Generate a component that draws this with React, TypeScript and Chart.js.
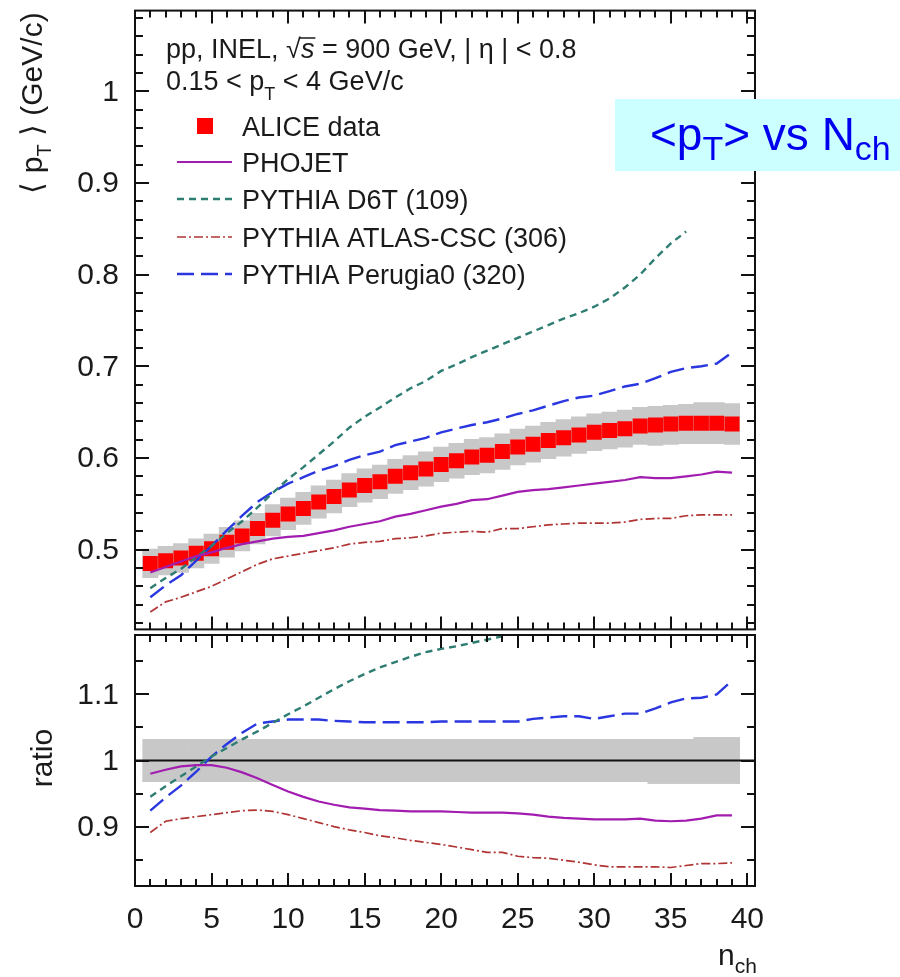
import { useEffect, useRef } from "react";
import { Chart, registerables } from "chart.js";

Chart.register(...registerables);

// ---------- data ----------
const nch = [
  1, 2, 3, 4, 5, 6, 7, 8, 9, 10, 11, 12, 13, 14, 15, 16, 17, 18, 19, 20,
  21, 22, 23, 24, 25, 26, 27, 28, 29, 30, 31, 32, 33, 34, 35, 36, 37, 38, 39,
];

// ALICE <pT> (GeV/c) per multiplicity bin
const aliceMean = [
  0.485, 0.488, 0.491, 0.496, 0.501, 0.508, 0.515, 0.523, 0.532, 0.539,
  0.545, 0.552, 0.558, 0.565, 0.57, 0.574, 0.58, 0.584, 0.588, 0.593,
  0.597, 0.601, 0.603, 0.607, 0.612, 0.615, 0.619, 0.622, 0.625, 0.628,
  0.63, 0.632, 0.635, 0.636, 0.637, 0.638, 0.638, 0.638, 0.637,
];

// relative systematic uncertainty (upper / lower)
const sysUp = [
  0.032, 0.032, 0.032, 0.032, 0.032, 0.032, 0.032, 0.032, 0.032, 0.032,
  0.032, 0.032, 0.032, 0.032, 0.032, 0.032, 0.032, 0.032, 0.032, 0.032,
  0.032, 0.032, 0.032, 0.032, 0.032, 0.032, 0.032, 0.032, 0.032, 0.032,
  0.032, 0.032, 0.032, 0.032, 0.032, 0.032, 0.035, 0.035, 0.035,
];
const sysDown = [
  0.032, 0.032, 0.032, 0.032, 0.032, 0.032, 0.032, 0.032, 0.032, 0.032,
  0.032, 0.032, 0.032, 0.032, 0.032, 0.032, 0.032, 0.032, 0.032, 0.032,
  0.032, 0.032, 0.032, 0.032, 0.032, 0.032, 0.032, 0.032, 0.032, 0.032,
  0.032, 0.032, 0.032, 0.035, 0.035, 0.035, 0.035, 0.035, 0.035,
];

// model predictions of <pT>
const phojet = [
  0.475, 0.481, 0.487, 0.493, 0.497, 0.502, 0.506, 0.509, 0.512, 0.514,
  0.515, 0.518, 0.521, 0.525, 0.528, 0.531, 0.536, 0.539, 0.543, 0.547,
  0.55, 0.554, 0.555, 0.559, 0.563, 0.565, 0.566, 0.568, 0.57, 0.572,
  0.574, 0.576, 0.579, 0.578, 0.578, 0.58, 0.582, 0.585, 0.584,
];
const d6t = [
  0.458, 0.469, 0.479, 0.492, 0.504, 0.518, 0.531, 0.546, 0.562, 0.577,
  0.59, 0.604, 0.618, 0.633, 0.645, 0.655, 0.666, 0.676, 0.684, 0.695,
  0.702, 0.71, 0.717, 0.724, 0.731, 0.738, 0.745, 0.752, 0.758, 0.765,
  0.774, 0.786, 0.8, 0.818, 0.834, 0.847,
];
const atlasCsc = [
  0.432, 0.443, 0.448, 0.454, 0.46, 0.468, 0.476, 0.484, 0.49, 0.493,
  0.496, 0.499, 0.502, 0.506, 0.508, 0.509, 0.512, 0.513, 0.515, 0.518,
  0.519, 0.52, 0.519, 0.523, 0.523, 0.525, 0.527, 0.528, 0.529, 0.529,
  0.529, 0.53, 0.533, 0.534, 0.534, 0.537, 0.538, 0.538, 0.538,
];
const perugia0 = [
  0.448, 0.461, 0.472, 0.488, 0.504, 0.521, 0.537, 0.552, 0.563, 0.572,
  0.579, 0.586, 0.591, 0.598, 0.603, 0.607, 0.614, 0.618, 0.622, 0.628,
  0.632, 0.636, 0.639, 0.643, 0.648, 0.652, 0.657, 0.662, 0.666, 0.668,
  0.673, 0.678, 0.681, 0.687, 0.694, 0.698, 0.7, 0.703, 0.715,
];

// model / data ratios
const phojetRatio = [
  0.98, 0.986, 0.991, 0.993, 0.993, 0.989, 0.982, 0.973, 0.963, 0.953,
  0.945, 0.938, 0.933, 0.929, 0.927, 0.925, 0.924, 0.923, 0.923, 0.923,
  0.922, 0.921, 0.921, 0.921, 0.92, 0.918, 0.915, 0.913, 0.912, 0.911,
  0.911, 0.911, 0.912, 0.909, 0.908, 0.909, 0.912, 0.917, 0.917,
];
const d6tRatio = [
  0.945, 0.961, 0.976, 0.991, 1.006, 1.019, 1.032, 1.044, 1.057, 1.07,
  1.082, 1.095, 1.108, 1.12, 1.131, 1.141, 1.149, 1.157, 1.164, 1.169,
  1.173, 1.178, 1.183, 1.188, 1.194, 1.2, 1.204, 1.209, 1.213, 1.218,
  1.229, 1.244, 1.26, 1.286, 1.309, 1.328,
];
const atlasCscRatio = [
  0.891, 0.908, 0.912, 0.915, 0.918, 0.921, 0.924, 0.925, 0.923, 0.918,
  0.912, 0.906, 0.9, 0.895, 0.891, 0.886, 0.883, 0.879, 0.876, 0.873,
  0.869, 0.865, 0.861, 0.861, 0.855, 0.853, 0.852, 0.849, 0.846, 0.842,
  0.839, 0.839, 0.839, 0.839, 0.838, 0.841, 0.844, 0.844, 0.845,
];
const perugia0Ratio = [
  0.924, 0.944, 0.962, 0.983, 1.006, 1.025, 1.042, 1.056, 1.059, 1.062,
  1.062, 1.062, 1.06, 1.059, 1.058, 1.058, 1.058, 1.058, 1.058, 1.059,
  1.059, 1.059, 1.059, 1.059, 1.059, 1.063, 1.065, 1.067, 1.067, 1.063,
  1.067, 1.071, 1.071, 1.079, 1.088, 1.094, 1.095, 1.1, 1.121,
];

const xTickLabels = [0, 5, 10, 15, 20, 25, 30, 35, 40];
const mainTickLabels = [0.5, 0.6, 0.7, 0.8, 0.9, 1];
const ratioTickLabels = [0.9, 1, 1.1];

const modelNames = [
  "PHOJET",
  "PYTHIA D6T (109)",
  "PYTHIA ATLAS-CSC (306)",
  "PYTHIA Perugia0 (320)",
];

// ---------- axis ranges & styles ----------
const X_MIN = 0;
const X_MAX = 40.5;
const MAIN_MIN = 0.413;
const MAIN_MAX = 1.088;
const RATIO_MIN = 0.81;
const RATIO_MAX = 1.19;

const FONT = '"Liberation Sans", Arial, Helvetica, sans-serif';
const INK = "#1a1a1a";
const BAND = "#c8c8c8";
const DATA_RED = "#ff0000";

type LineStyle = { color: string; dash: number[]; width: number };
const modelStyles: LineStyle[] = [
  { color: "#a21cb0", dash: [], width: 2.2 },
  { color: "#2e7d72", dash: [7, 5], width: 2.4 },
  { color: "#b03434", dash: [9, 3, 2, 3], width: 1.7 },
  { color: "#2a36e0", dash: [17, 7], width: 2.4 },
];

const pts = (ys: number[]) => ys.map((y, i) => ({ x: nch[i], y }));

const lineSet = (label: string, ys: number[], s: LineStyle) => ({
  type: "line" as const,
  label,
  data: pts(ys),
  borderColor: s.color,
  borderWidth: s.width,
  borderDash: s.dash,
  borderCapStyle: "butt" as const,
  pointRadius: 0,
  fill: false,
  tension: 0,
  order: 0,
});

const bandSet = (lo: number[], hi: number[]) => ({
  type: "bar" as const,
  label: "syst",
  data: nch.map((n, i) => ({ x: n, y: [lo[i], hi[i]] })),
  backgroundColor: BAND,
  borderWidth: 0,
  barPercentage: 1,
  categoryPercentage: 1,
  order: 3,
});

// ---------- drawing helpers ----------
type Run = { t: string; size: number; dy?: number; italic?: boolean };

function drawRuns(ctx: CanvasRenderingContext2D, runs: Run[], x: number, y: number) {
  let cx = x;
  for (const r of runs) {
    ctx.font = `${r.italic ? "italic " : ""}${r.size}px ${FONT}`;
    ctx.fillText(r.t, cx, y + (r.dy || 0));
    cx += ctx.measureText(r.t).width;
  }
  return cx;
}

function runsWidth(ctx: CanvasRenderingContext2D, runs: Run[]) {
  let w = 0;
  for (const r of runs) {
    ctx.font = `${r.italic ? "italic " : ""}${r.size}px ${FONT}`;
    w += ctx.measureText(r.t).width;
  }
  return w;
}

function drawVertical(ctx: CanvasRenderingContext2D, runs: Run[], baseX: number, centerY: number) {
  ctx.save();
  ctx.translate(baseX, 0);
  ctx.rotate(-Math.PI / 2);
  const w = runsWidth(ctx, runs);
  drawRuns(ctx, runs, -(centerY + w / 2), 0);
  ctx.restore();
}

// frame with inward ticks on all four sides
const makeFrame = (yStep: number, kFrom: number, kTo: number, majorEvery: number) => ({
  id: "frame",
  afterDatasetsDraw(chart: any) {
    const { ctx, chartArea: a } = chart;
    const xs = chart.scales.x;
    const ys = chart.scales.y;
    ctx.save();
    ctx.strokeStyle = "#111";
    ctx.lineWidth = 2;
    ctx.setLineDash([]);
    ctx.beginPath();
    for (let v = 0; v <= 40; v++) {
      const px = Math.round(xs.getPixelForValue(v));
      const len = v % 5 === 0 ? 13 : 7;
      ctx.moveTo(px, a.top);
      ctx.lineTo(px, a.top + len);
      ctx.moveTo(px, a.bottom);
      ctx.lineTo(px, a.bottom - len);
    }
    for (let k = kFrom; k <= kTo; k++) {
      const py = Math.round(ys.getPixelForValue(k * yStep));
      const len = k % majorEvery === 0 ? 14 : 8;
      ctx.moveTo(a.left, py);
      ctx.lineTo(a.left + len, py);
      ctx.moveTo(a.right, py);
      ctx.lineTo(a.right - len, py);
    }
    ctx.stroke();
    ctx.strokeRect(a.left, a.top, a.right - a.left, a.bottom - a.top);
    ctx.restore();
  },
});

const mainDecor = {
  id: "mainDecor",
  afterDraw(chart: any) {
    const ctx: CanvasRenderingContext2D = chart.ctx;
    ctx.save();
    ctx.fillStyle = INK;
    ctx.textBaseline = "alphabetic";

    // header
    let x = drawRuns(ctx, [{ t: "pp, INEL, ", size: 27 }], 166, 58);
    ctx.font = `27px ${FONT}`;
    ctx.fillText("\u221A", x, 58);
    const s0 = x + ctx.measureText("\u221A").width;
    ctx.font = `italic 27px ${FONT}`;
    ctx.fillText("s", s0, 58);
    const s1 = s0 + ctx.measureText("s").width;
    ctx.strokeStyle = INK;
    ctx.lineWidth = 1.5;
    ctx.beginPath();
    ctx.moveTo(s0 - 1, 38);
    ctx.lineTo(s1 + 1, 38);
    ctx.stroke();
    drawRuns(ctx, [{ t: " = 900 GeV, | \u03B7 | < 0.8", size: 27 }], s1, 58);
    drawRuns(
      ctx,
      [
        { t: "0.15 < p", size: 27 },
        { t: "T", size: 18, dy: 10 },
        { t: " < 4 GeV/c", size: 27 },
      ],
      166,
      90
    );

    // legend
    const rowY = [126, 162, 199, 237, 274];
    ctx.fillStyle = DATA_RED;
    ctx.fillRect(197, rowY[0] - 8, 16, 16);
    ctx.fillStyle = INK;
    drawRuns(ctx, [{ t: "ALICE data", size: 27 }], 242, rowY[0] + 10);
    modelNames.forEach((name, i) => {
      const s = modelStyles[i];
      const y = rowY[i + 1];
      ctx.strokeStyle = s.color;
      ctx.lineWidth = s.width;
      ctx.setLineDash(s.dash);
      ctx.beginPath();
      ctx.moveTo(177, y);
      ctx.lineTo(232, y);
      ctx.stroke();
      ctx.setLineDash([]);
      ctx.fillStyle = INK;
      drawRuns(ctx, [{ t: name, size: 27 }], 242, y + 10);
    });

    // y-axis title
    ctx.fillStyle = INK;
    drawVertical(
      ctx,
      [
        { t: "\u27E8 p", size: 30 },
        { t: "T", size: 20, dy: 9 },
        { t: " \u27E9 (GeV/c)", size: 30 },
      ],
      42,
      103
    );

    // tag box
    ctx.fillStyle = "#ccffff";
    ctx.fillRect(615, 99, 285, 72);
    ctx.fillStyle = "#0000ee";
    drawRuns(
      ctx,
      [
        { t: "<p", size: 46 },
        { t: "T", size: 34, dy: 10 },
        { t: "> vs N", size: 46 },
        { t: "ch", size: 34, dy: 10 },
      ],
      650,
      150
    );
    ctx.restore();
  },
};

const ratioDecor = {
  id: "ratioDecor",
  afterDraw(chart: any) {
    const ctx: CanvasRenderingContext2D = chart.ctx;
    ctx.save();
    ctx.fillStyle = INK;
    ctx.textBaseline = "alphabetic";
    drawVertical(ctx, [{ t: "ratio", size: 30 }], 52, 158);
    drawRuns(
      ctx,
      [
        { t: "n", size: 30 },
        { t: "ch", size: 21, dy: 8 },
      ],
      718,
      365
    );
    ctx.restore();
  },
};

const yAxis = (min: number, max: number, labels: number[]) => ({
  type: "linear" as const,
  position: "left" as const,
  min,
  max,
  grid: { display: false, drawTicks: false },
  border: { display: false },
  ticks: {
    font: { family: FONT, size: 30 },
    color: INK,
    padding: 16,
    labelOffset: 1,
    callback: (v: any) => String(v),
  },
  afterBuildTicks: (s: any) => {
    s.ticks = labels.map((value) => ({ value }));
  },
  afterFit: (s: any) => {
    s.width = 135;
    s.paddingTop = 0;
    s.paddingBottom = 0;
  },
});

export default function App() {
  const mainRef = useRef<HTMLCanvasElement>(null);
  const ratioRef = useRef<HTMLCanvasElement>(null);

  useEffect(() => {
    const main = new Chart(mainRef.current!, {
      type: "line",
      data: {
        datasets: [
          bandSet(
            aliceMean.map((v, i) => v * (1 - sysDown[i])),
            aliceMean.map((v, i) => v * (1 + sysUp[i]))
          ) as any,
          {
            type: "line",
            label: "ALICE data",
            data: pts(aliceMean),
            showLine: false,
            pointStyle: "rect",
            pointRadius: 10.6,
            pointBackgroundColor: DATA_RED,
            pointBorderWidth: 0,
            order: 1,
          },
          lineSet(modelNames[0], phojet, modelStyles[0]),
          lineSet(modelNames[1], d6t, modelStyles[1]),
          lineSet(modelNames[2], atlasCsc, modelStyles[2]),
          lineSet(modelNames[3], perugia0, modelStyles[3]),
        ],
      },
      options: {
        responsive: false,
        animation: false,
        devicePixelRatio: 1,
        events: [],
        layout: { padding: { left: 0, right: 145, top: 7, bottom: 5 } },
        plugins: { legend: { display: false }, tooltip: { enabled: false } },
        scales: {
          x: { type: "linear", min: X_MIN, max: X_MAX, display: false, offset: false },
          y: yAxis(MAIN_MIN, MAIN_MAX, mainTickLabels),
        },
      } as any,
      plugins: [makeFrame(0.02, 21, 54, 5), mainDecor],
    });

    const ratio = new Chart(ratioRef.current!, {
      type: "line",
      data: {
        datasets: [
          bandSet(
            sysDown.map((d) => 1 - d),
            sysUp.map((u) => 1 + u)
          ) as any,
          {
            type: "line",
            label: "unity",
            data: [
              { x: X_MIN, y: 1 },
              { x: X_MAX, y: 1 },
            ],
            borderColor: "#111",
            borderWidth: 2,
            pointRadius: 0,
            order: 1,
          },
          lineSet(modelNames[0], phojetRatio, modelStyles[0]),
          lineSet(modelNames[1], d6tRatio, modelStyles[1]),
          lineSet(modelNames[2], atlasCscRatio, modelStyles[2]),
          lineSet(modelNames[3], perugia0Ratio, modelStyles[3]),
        ],
      },
      options: {
        responsive: false,
        animation: false,
        devicePixelRatio: 1,
        events: [],
        layout: { padding: { left: 0, right: 145, top: 35, bottom: 0 } },
        plugins: { legend: { display: false }, tooltip: { enabled: false } },
        scales: {
          x: {
            type: "linear",
            position: "bottom",
            min: X_MIN,
            max: X_MAX,
            offset: false,
            grid: { display: false, drawTicks: false },
            border: { display: false },
            ticks: {
              font: { family: FONT, size: 30 },
              color: INK,
              padding: 16,
              autoSkip: false,
              maxRotation: 0,
              minRotation: 0,
              callback: (v: any) => String(v),
            },
            afterBuildTicks: (s: any) => {
              s.ticks = xTickLabels.map((value) => ({ value }));
            },
            afterFit: (s: any) => {
              s.height = 91;
              s.paddingLeft = 0;
              s.paddingRight = 0;
            },
          },
          y: yAxis(RATIO_MIN, RATIO_MAX, ratioTickLabels),
        },
      } as any,
      plugins: [makeFrame(0.05, 17, 23, 2), ratioDecor],
    });

    return () => {
      main.destroy();
      ratio.destroy();
    };
  }, []);

  return (
    <div
      style={{
        position: "absolute",
        left: 0,
        top: 0,
        width: 900,
        height: 977,
        background: "#ffffff",
        overflow: "hidden",
      }}
    >
      <canvas
        ref={mainRef}
        width={900}
        height={640}
        style={{ position: "absolute", left: 0, top: 0 }}
      />
      <canvas
        ref={ratioRef}
        width={900}
        height={377}
        style={{ position: "absolute", left: 0, top: 600 }}
      />
    </div>
  );
}
